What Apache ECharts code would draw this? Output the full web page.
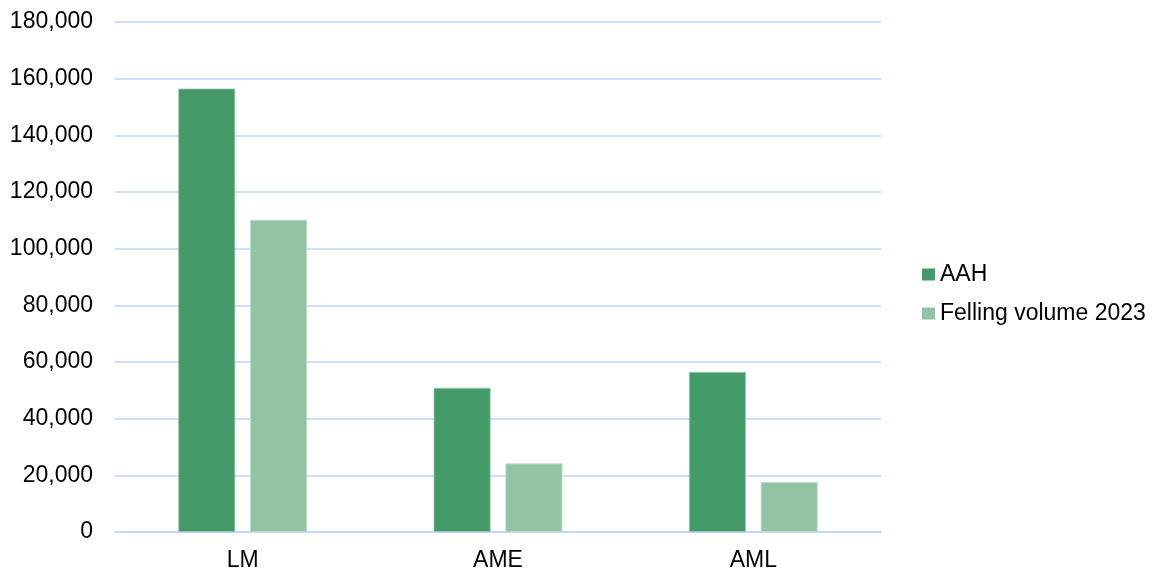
<!DOCTYPE html>
<html>
<head>
<meta charset="utf-8">
<script src="https://cdn.jsdelivr.net/npm/echarts@6/dist/echarts.min.js"></script>
<style>html,body{margin:0;padding:0;background:#fff;}#c{width:1162px;height:574px;}</style>
</head>
<body>
<div id="c"></div>
<script>
const categories = ['LM', 'AME', 'AML'];
const seriesNames = ['AAH', 'Felling volume 2023'];
const aahValues = [156500, 50900, 56500];
const fellingValues = [110200, 24200, 17600];

const chart = echarts.init(document.getElementById('c'));
const font = 'Liberation Sans, Arial, sans-serif';
chart.setOption({
  animation: false,
  grid: { left: 115, right: 281, top: 22, bottom: 42, containLabel: false },
  legend: {
    orient: 'vertical',
    left: 922,
    top: 263,
    padding: 0,
    itemWidth: 13,
    itemHeight: 12,
    itemGap: 16,
    icon: 'rect',
    itemStyle: { borderWidth: 0 },
    textStyle: { fontFamily: font, fontSize: 23, color: '#000' },
    data: seriesNames
  },
  xAxis: {
    type: 'category',
    data: categories,
    axisLine: { lineStyle: { color: '#bed5f8', width: 1.5 } },
    axisTick: { show: false },
    axisLabel: { fontFamily: font, fontSize: 23, color: '#000', margin: 17 }
  },
  yAxis: {
    type: 'value',
    min: 0, max: 180000, interval: 20000,
    axisLine: { show: false },
    axisTick: { show: false },
    splitLine: { lineStyle: { color: '#bed5f8', width: 1.5 } },
    axisLabel: {
      fontFamily: font, fontSize: 23, color: '#000', margin: 22,
      formatter: v => v.toLocaleString('en-US')
    }
  },
  series: [
    { name: seriesNames[0], type: 'bar', data: aahValues, barWidth: 57, barGap: '26%',
      itemStyle: { color: '#459a6a', borderColor: '#9cc9ad', borderWidth: 0.8 } },
    { name: seriesNames[1], type: 'bar', data: fellingValues, barWidth: 57,
      itemStyle: { color: '#93c3a5', borderColor: '#c3ddcd', borderWidth: 0.8 } }
  ]
});
</script>
</body>
</html>
